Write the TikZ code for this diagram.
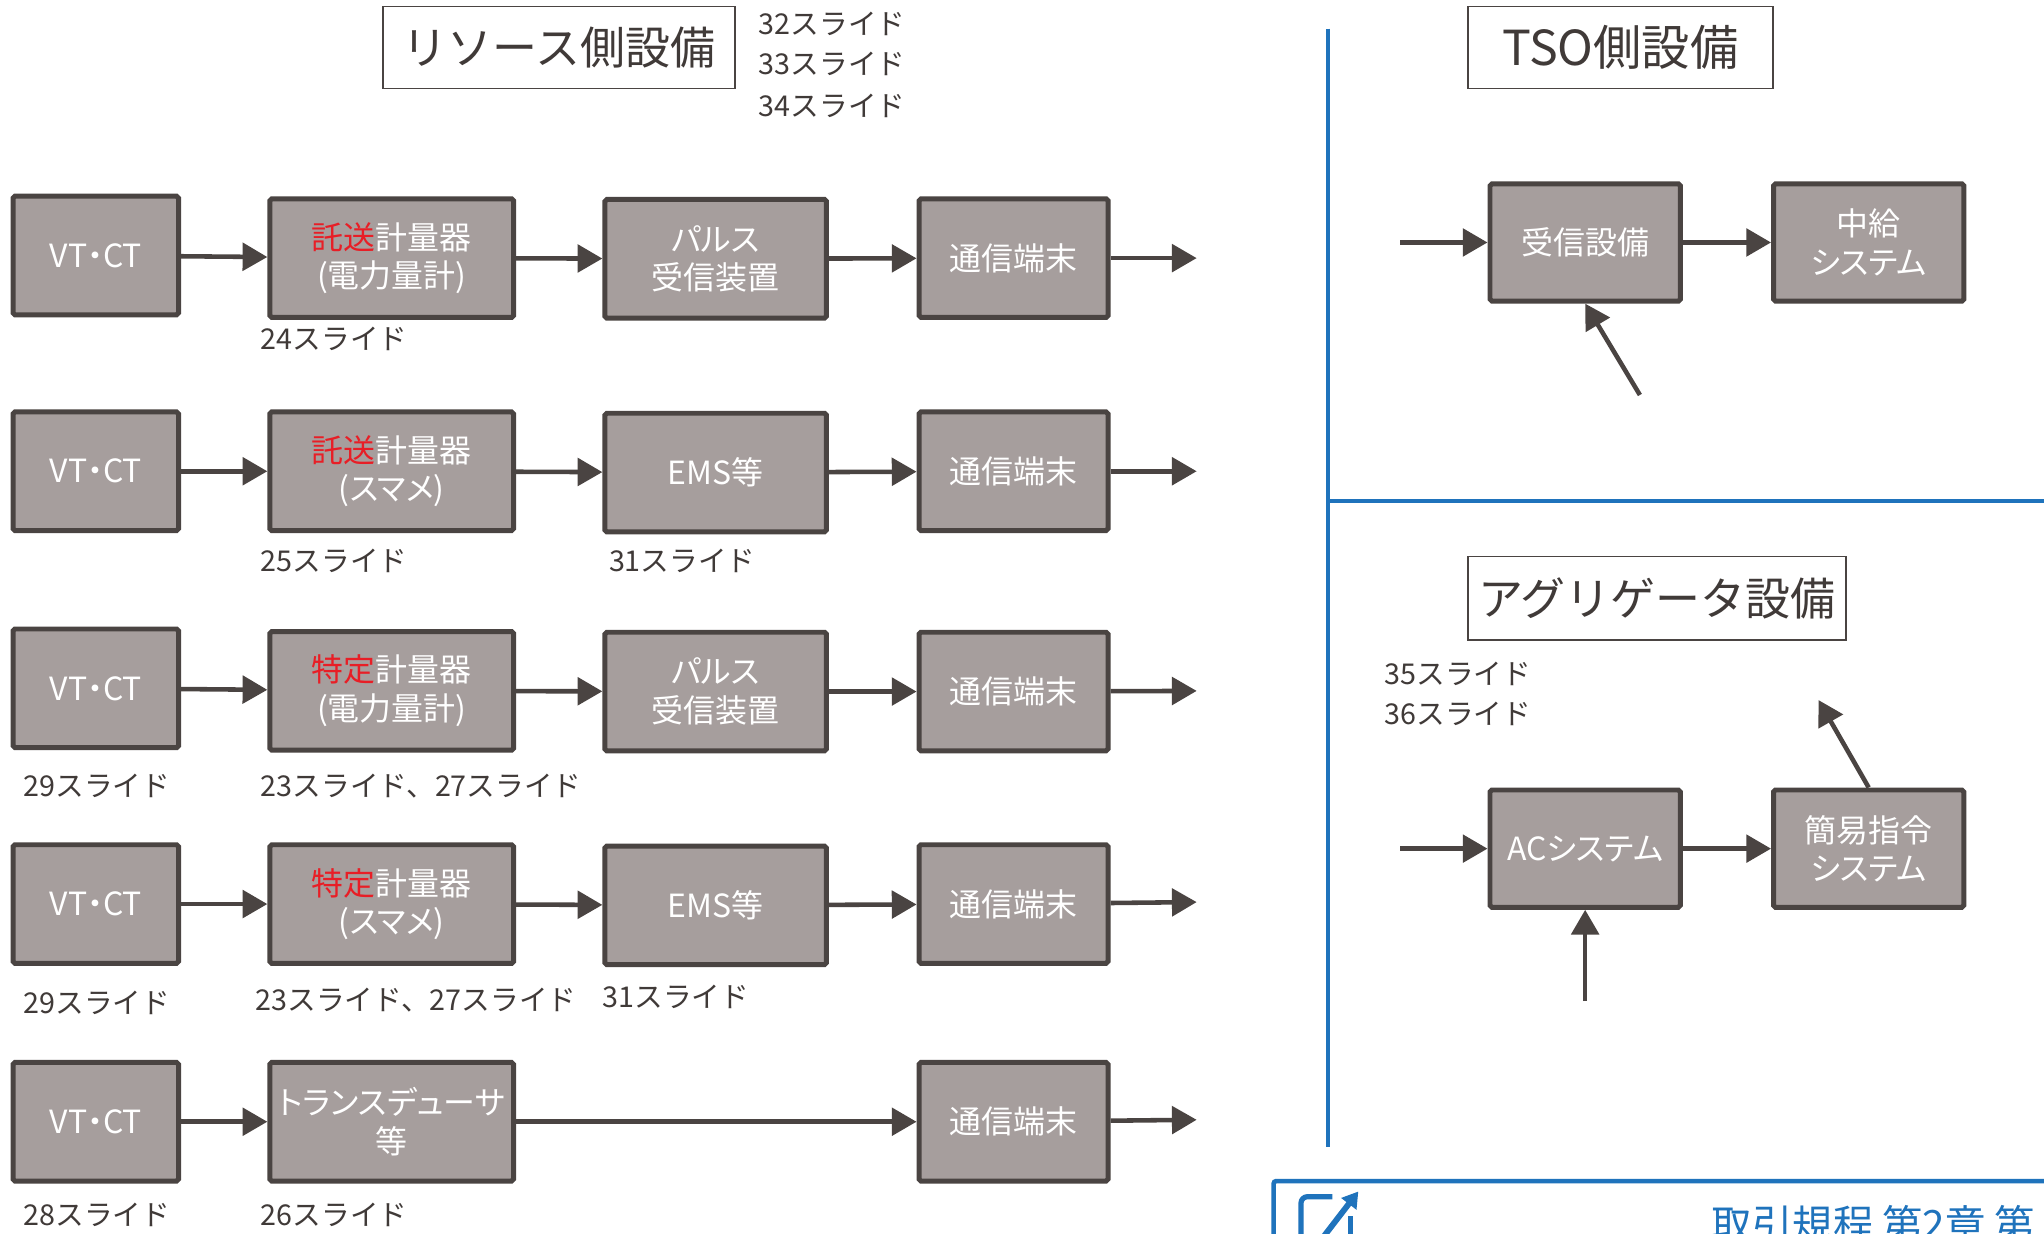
\documentclass[tikz,border=0pt]{standalone}
\usepackage{fontspec}
\setmainfont{Noto Sans CJK JP}
\newfontfamily\bx[RawFeature=+palt]{Noto Sans CJK JP}
\usetikzlibrary{arrows.meta,calc}
\definecolor{boxfill}{RGB}{166,158,157}
\definecolor{boxline}{RGB}{74,68,66}
\definecolor{txt}{RGB}{64,58,56}
\definecolor{hl}{RGB}{232,30,38}
\definecolor{blueline}{RGB}{31,115,188}
\begin{document}
\begin{tikzpicture}[x=1pt,y=-1pt,
  dev/.style={draw=boxline, fill=boxfill, line width=3.8pt, rounded corners=1.5pt, text=white,
    font=\bx\fontsize{24.5}{29.5}\selectfont, align=center, inner sep=0pt, minimum height=91pt},
  vt/.style={dev, minimum width=127pt},
  mtr/.style={dev, minimum width=187pt},
  mid/.style={dev, minimum width=170pt},
  com/.style={dev, minimum width=145pt},
  sys/.style={dev, minimum width=146pt, minimum height=90pt},
  flow/.style={draw=boxline, line width=3.5pt, -{Triangle[length=19pt,width=21pt]}},
  ttl/.style={draw=boxline, line width=1.3pt, fill=white, text=txt,
    font=\fontsize{34.5}{40}\selectfont, inner sep=0pt},
  ref/.style={text=txt, font=\fontsize{22}{26}\selectfont, inner sep=0pt, anchor=west},
  sep/.style={draw=blueline, line width=3pt}
]
\clip (0,0) rectangle (1568,946);
\fill[white] (0,0) rectangle (1568,946);

% ---------- left: resource side ----------
\node[ttl, minimum width=270pt, minimum height=63pt] (tl) at (429,36.5) {リソース側設備};
\node[ref] (s32) at (582,18) {32スライド};
\node[ref] (s33) at (582,49) {33スライド};
\node[ref] (s34) at (582,81) {34スライド};

% row 1
\node[vt]  (v1) at (73.5,196)   {VT・CT};
\node[mtr] (m1) at (300.5,198)  {\textcolor{hl}{託送}計量器\\(電力量計)};
\node[mid] (p1) at (549,198.5)  {パルス\\受信装置};
\node[com] (c1) at (777.5,198)  {通信端末};
\coordinate (o1) at (918,198);
\draw[flow] (v1) -- (m1);
\draw[flow] (m1) -- (p1);
\draw[flow] (p1) -- (c1);
\draw[flow] (c1) -- (o1);
\node[ref] (l1a) at (200,260) {24スライド};

% row 2
\node[vt]  (v2) at (73.5,361.5)  {VT・CT};
\node[mtr] (m2) at (300.5,361.5) {\textcolor{hl}{託送}計量器\\(スマメ)};
\node[mid] (e2) at (549,362.5)   {EMS等};
\node[com] (c2) at (777.5,361.5) {通信端末};
\coordinate (o2) at (918,361.5);
\draw[flow] (v2) -- (m2);
\draw[flow] (m2) -- (e2);
\draw[flow] (e2) -- (c2);
\draw[flow] (c2) -- (o2);
\node[ref] (l2a) at (200,430) {25スライド};
\node[ref] (l2b) at (467,430) {31スライド};

% row 3
\node[vt]  (v3) at (73.5,528)   {VT・CT};
\node[mtr] (m3) at (300.5,530)  {\textcolor{hl}{特定}計量器\\(電力量計)};
\node[mid] (p3) at (549,530.5)  {パルス\\受信装置};
\node[com] (c3) at (777.5,530.5){通信端末};
\coordinate (o3) at (918,530);
\draw[flow] (v3) -- (m3);
\draw[flow] (m3) -- (p3);
\draw[flow] (p3) -- (c3);
\draw[flow] (c3) -- (o3);
\node[ref] (l3a) at (18,603)  {29スライド};
\node[ref] (l3b) at (200,603) {23スライド、27スライド};

% row 4
\node[vt]  (v4) at (73.5,693.5)  {VT・CT};
\node[mtr] (m4) at (300.5,693.5) {\textcolor{hl}{特定}計量器\\(スマメ)};
\node[mid] (e4) at (549,694.5)   {EMS等};
\node[com] (c4) at (777.5,693.5) {通信端末};
\coordinate (o4) at (918,692);
\draw[flow] (v4) -- (m4);
\draw[flow] (m4) -- (e4);
\draw[flow] (e4) -- (c4);
\draw[flow] (c4) -- (o4);
\node[ref] (l4a) at (18,769)  {29スライド};
\node[ref] (l4b) at (196,767) {23スライド、27スライド};
\node[ref] (l4c) at (462,765) {31スライド};

% row 5
\node[vt]  (v5) at (73.5,860.5)  {VT・CT};
\node[mtr] (t5) at (300.5,860.5) {トランスデューサ\\等};
\node[com] (c5) at (777.5,860.5) {通信端末};
\coordinate (o5) at (918,859);
\draw[flow] (v5) -- (t5);
\draw[flow] (t5) -- (c5);
\draw[flow] (c5) -- (o5);
\node[ref] (l5a) at (18,932)  {28スライド};
\node[ref] (l5b) at (200,932) {26スライド};

% ---------- separators ----------
\draw[sep] (1019,22) -- (1019,880);
\draw[sep] (1019,384) -- (1570,384);

% ---------- TSO side ----------
\node[ttl, minimum width=234pt, minimum height=63pt, font=\fontsize{37}{40}\selectfont] (tt) at (1243,36.5) {TSO側設備};
\node[sys] (rx) at (1216,186)   {受信設備};
\node[sys] (cs) at (1433.5,186) {中給\\システム};
\coordinate (i1) at (1074,186);
\coordinate (d1) at (1258,303);
\draw[flow] (i1) -- (rx);
\draw[flow] (rx) -- (cs);
\draw[flow] (d1) -- (rx.south);

% ---------- aggregator ----------
\node[ttl, minimum width=290pt, minimum height=64pt] (ta) at (1271,459) {アグリゲータ設備};
\node[ref] (s35) at (1062,517) {35スライド};
\node[ref] (s36) at (1062,548) {36スライド};
\node[sys] (ac) at (1216,651)   {ACシステム};
\node[sys] (sk) at (1433.5,651) {簡易指令\\システム};
\coordinate (i2) at (1074,651);
\coordinate (u2) at (1216,768);
\coordinate (d2) at (1395,537);
\draw[flow] (i2) -- (ac);
\draw[flow] (ac) -- (sk);
\draw[flow] (u2) -- (ac.south);
\draw[flow] (sk.north) -- (d2);

% ---------- bottom reference box ----------
\draw[blueline, line width=3.5pt, rounded corners=2pt] (977,990) -- (977,906) -- (1590,906);
\draw[blueline, line width=4pt, rounded corners=5pt] (1022,918) -- (998,918) -- (998,970);
\draw[blueline, line width=4pt] (1036,933) -- (1036,970);
\coordinate (ia) at (1012,953);
\coordinate (ib) at (1042,914);
\draw[blueline, line width=4.5pt, -{Triangle[length=12pt,width=14pt]}] (ia) -- (ib);
\node[anchor=base west, text=blueline, font=\fontsize{31}{36}\selectfont, inner sep=0pt] (rt) at (1313,951) {取引規程 第2章 第};
\end{tikzpicture}
\end{document}
